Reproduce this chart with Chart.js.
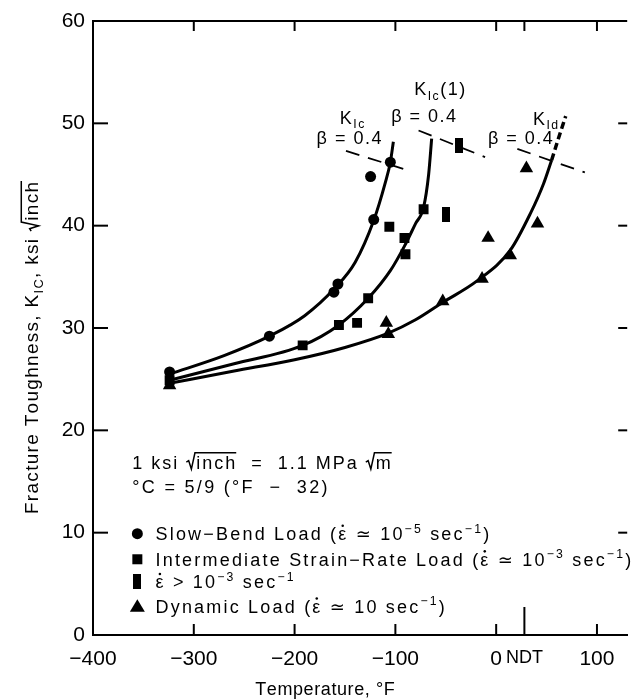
<!DOCTYPE html>
<html><head><meta charset="utf-8">
<script src="https://cdn.jsdelivr.net/npm/chart.js@4.4.1/dist/chart.umd.min.js"></script>
<style>html,body{margin:0;padding:0;background:#fff}canvas{display:block}</style>
</head><body>
<canvas id="c" width="635" height="700"></canvas>
<script>
// ---------- data ----------
const slowBend = [[-324,25.7],[-225,29.2],[-161,33.5],[-157,34.3],[-121.5,40.6],[-124.6,44.8],[-105,46.2]];
const intermediate = [[-324,24.9],[-192,28.3],[-156,30.3],[-138,30.5],[-127,32.9],[-106,39.9],[-91,38.8],[-90,37.2],[-72,41.6]];
const highRate = [[-50,41.1],[-37,47.8]];
const dynamic = [[-324,24.4],[-109,30.5],[-107,29.4],[-53,32.6],[-14,34.8],[-8,38.8],[14,37.1],[30,45.6],[41,40.2]];
const curveKIc = [[-324,25.5],[-270,27.3],[-225,29.2],[-190,31.2],[-160,33.9],[-140,36.4],[-121.5,40.5],[-110,44.2],[-105,46.2],[-102,48.2]];
const curveKIc1 = [[-324,24.9],[-260,26.5],[-192,28.3],[-156,30.3],[-127,32.9],[-105,35.6],[-91,38.0],[-80,40.2],[-72,41.8],[-67,45.0],[-64,48.5]];
const curveKId = [[-324,24.6],[-260,25.8],[-200,26.9],[-150,28.1],[-107,29.5],[-80,30.8],[-53,32.5],[-19,34.6],[14,37.6],[34,41.2],[47,44.1],[55,46.4]];
const curveKIdTop = [[55,46.4],[62,48.6],[69,50.7]];
const betaKIc = [[-149,47.3],[-84,45.3]];
const betaKIc1 = [[-77,49.3],[-11,46.7]];
const betaKId = [[21,47.5],[88,45.2]];
const xTicks = [-400,-300,-200,-100,0,28,100];
const xTickLabels = ['\u2212400','\u2212300','\u2212200','\u2212100','0','NDT','100'];
const yTicks = [0,10,20,30,40,50,60];
const xRange = [-400,130];
const yRange = [0,60];

// ---------- helpers ----------
const FONT = '"Liberation Sans", Arial, Helvetica, "DejaVu Sans", sans-serif';
const fontStr = s => s + 'px ' + FONT;
const pts = a => a.map(([x,y]) => ({x,y}));

function segW(ctx, s, size, sp) {
  const sz = (s.sup||s.sub) ? size*0.68 : size;
  ctx.font = fontStr(sz);
  if (s.rad) { let w = size*0.55; for (const ch of Array.from(s.rad)) w += ctx.measureText(ch).width + sp; return w; }
  let w = 0; for (const ch of Array.from(s.t)) w += ctx.measureText(ch).width + sp; return w;
}
function richW(ctx, segs, size, sp) { let w = 0; for (const s of segs) w += segW(ctx, s, size, sp); return w - sp; }
function drawRich(ctx, segs, x, y, size, sp) {
  let cx = x;
  for (const s of segs) {
    const sz = (s.sup||s.sub) ? size*0.68 : size;
    const dy = s.sup ? -size*0.42 : s.sub ? size*0.25 : 0;
    ctx.font = fontStr(sz);
    if (s.rad) {
      const x0 = cx;
      ctx.beginPath(); ctx.lineWidth = 1.5;
      ctx.moveTo(x0, y - size*0.36); ctx.lineTo(x0 + size*0.13, y - size*0.44);
      ctx.lineTo(x0 + size*0.28, y + size*0.03); ctx.lineTo(x0 + size*0.48, y - size*0.88);
      cx += size*0.55;
      for (const ch of Array.from(s.rad)) { ctx.fillText(ch, cx, y); cx += ctx.measureText(ch).width + sp; }
      ctx.lineTo(cx - sp + 1, y - size*0.88); ctx.stroke();
      continue;
    }
    for (const ch of Array.from(s.t)) {
      ctx.fillText(ch, cx, y + dy);
      const cw = ctx.measureText(ch).width;
      if (s.dot && ch === '\u03b5') { ctx.beginPath(); ctx.arc(cx + cw*0.55, y + dy - sz*0.8, sz*0.07, 0, Math.PI*2); ctx.fill(); }
      cx += cw + sp;
    }
  }
  return cx;
}

const eps = {t:'\u03b5', dot:true};
const texts = {
  ksi: [{t:'1 ksi '},{rad:'inch'},{t:'  =  1.1 MPa '},{rad:'m'}],
  cel: [{t:'\u00b0C = 5/9 (\u00b0F  \u2212  32)'}],
  leg: [
    [{t:'Slow\u2212Bend Load ('},eps,{t:' \u2243 10'},{t:'\u22125',sup:1},{t:' sec'},{t:'\u22121',sup:1},{t:')'}],
    [{t:'Intermediate Strain\u2212Rate Load ('},eps,{t:' \u2243 10'},{t:'\u22123',sup:1},{t:' sec'},{t:'\u22121',sup:1},{t:')'}],
    [eps,{t:' > 10'},{t:'\u22123',sup:1},{t:' sec'},{t:'\u22121',sup:1}],
    [{t:'Dynamic Load ('},eps,{t:' \u2243 10 sec'},{t:'\u22121',sup:1},{t:')'}]
  ],
  yTitle: [{t:'Fracture Toughness, K'},{t:'IC',sub:1},{t:', ksi '},{rad:'inch'}],
  xTitle: [{t:'Temperature, \u00b0F'}],
  kic: [{t:'K'},{t:'Ic',sub:1}],
  kic1: [{t:'K'},{t:'Ic',sub:1},{t:'(1)'}],
  kid: [{t:'K'},{t:'Id',sub:1}],
  beta: [{t:'\u03b2 = 0.4'}]
};
// annotation anchors in data units
const labelAt = [
  ['kic', -143, 50.6], ['beta', -146, 48.6],
  ['kic1', -56, 53.4], ['beta', -72, 50.8],
  ['kid', 49, 50.5], ['beta', 24, 48.6]
];
const legendRowsK = [9.9, 7.4, 5.2, 2.8];
const legendMarkerT = -356, legendTextT = -338;
const noteT = -361, ksiK = 16.9, celK = 14.5;

const tall = document.createElement('canvas');
tall.width = 8; tall.height = 15;
{ const t = tall.getContext('2d'); t.fillStyle = '#000'; t.fillRect(0,0,8,15); }

const deco = {
  id: 'deco',
  afterDraw(chart) {
    const {ctx, chartArea: a, scales: {x, y}} = chart;
    ctx.save();
    ctx.strokeStyle = '#000'; ctx.fillStyle = '#000'; ctx.lineWidth = 2;
    const L = (x1,y1,x2,y2) => { ctx.beginPath(); ctx.moveTo(x1,y1); ctx.lineTo(x2,y2); ctx.stroke(); };
    // frame top
    L(a.left, a.top, a.right, a.top);
    yTicks.forEach(v => { if (v===0 || v===60) return; const p = y.getPixelForValue(v); L(a.left, p, a.left+15, p); L(a.right, p, a.right-9, p); });
    xTicks.forEach(v => { if (v===-400) return; const p = x.getPixelForValue(v); L(p, a.bottom, p, a.bottom - (v===28 ? 28 : 11)); L(p, a.top, p, a.top + 10); });
    // annotation labels
    ctx.textBaseline = 'alphabetic';
    const sz = 18, sp = 1.5;
    labelAt.forEach(([k, tx, ty]) => {
      const w = richW(ctx, texts[k], sz, sp);
      drawRich(ctx, texts[k], x.getPixelForValue(tx) - w/2, y.getPixelForValue(ty) + sz*0.36, sz, sp);
    });
    // notes
    drawRich(ctx, texts.ksi, x.getPixelForValue(noteT), y.getPixelForValue(ksiK) + 6.5, 18, 2);
    drawRich(ctx, texts.cel, x.getPixelForValue(noteT), y.getPixelForValue(celK) + 6.5, 18, 2.3);
    // legend
    const mx = x.getPixelForValue(legendMarkerT), tx = x.getPixelForValue(legendTextT);
    legendRowsK.forEach((k, i) => {
      const py = y.getPixelForValue(k);
      ctx.beginPath();
      if (i === 0) { ctx.arc(mx, py, 5.5, 0, Math.PI*2); ctx.fill(); }
      else if (i === 1) { ctx.fillRect(mx-5, py-5, 10, 10); }
      else if (i === 2) { ctx.drawImage(tall, mx-4, py-7.5); }
      else { ctx.moveTo(mx, py-7); ctx.lineTo(mx+7.5, py+5.5); ctx.lineTo(mx-7.5, py+5.5); ctx.closePath(); ctx.fill(); }
      drawRich(ctx, texts.leg[i], tx, py + 6.5, 18, 2.2);
    });
    // axis titles
    const xt = texts.xTitle; const xw = richW(ctx, xt, 18, 0.6);
    drawRich(ctx, xt, a.left + 232 - xw/2, 695, 18, 0.6);
    ctx.save();
    ctx.translate(38, (a.top + a.bottom)/2 + 20);
    ctx.rotate(-Math.PI/2);
    const yw = richW(ctx, texts.yTitle, 19, 1.3);
    drawRich(ctx, texts.yTitle, -yw/2, 0, 19, 1.3);
    ctx.restore();
    ctx.restore();
  }
};

const lineDs = (data, w, dash, mono) => ({
  type: 'line', data: pts(data), borderColor: '#000', borderWidth: w, pointRadius: 0,
  borderDash: dash || [], cubicInterpolationMode: mono ? 'monotone' : 'default', tension: 0, fill: false
});
const ptDs = (data, style, r) => ({
  type: 'scatter', data: pts(data), pointStyle: style, pointRadius: r,
  backgroundColor: '#000', borderColor: '#000', borderWidth: 0
});

new Chart(document.getElementById('c'), {
  type: 'scatter',
  data: { datasets: [
    ptDs(slowBend, 'circle', 5.5),
    ptDs(intermediate, 'rect', 7),
    ptDs(highRate, tall, 7),
    ptDs(dynamic, 'triangle', 7.8),
    lineDs(curveKIc, 3, null, true),
    lineDs(curveKIc1, 3, null, true),
    lineDs(curveKId, 3, null, true),
    lineDs(curveKIdTop, 3.5, [7,4]),
    lineDs(betaKIc, 1.8, [14,9]),
    lineDs(betaKIc1, 1.8, [14,9]),
    lineDs(betaKId, 1.8, [14,9])
  ]},
  options: {
    responsive: false, animation: false, devicePixelRatio: 1,
    layout: { padding: { top: 21, right: 0, left: 0, bottom: 0 } },
    plugins: { legend: { display: false }, tooltip: { enabled: false } },
    scales: {
      x: {
        type: 'linear', min: xRange[0], max: xRange[1],
        afterFit(s) { s.height = 65; },
        afterBuildTicks(s) { s.ticks = xTicks.map(v => ({value: v})); },
        ticks: { callback: (v, i) => xTickLabels[i], autoSkip: false, maxRotation: 0, color: '#000',
                 font: c => ({ family: FONT, size: (c.tick && c.tick.value === 28) ? 18 : 21 }), padding: 12 },
        grid: { display: false, drawTicks: false },
        border: { display: true, color: '#000', width: 2 }
      },
      y: {
        type: 'linear', min: yRange[0], max: yRange[1],
        afterFit(s) { s.width = 93; },
        afterBuildTicks(s) { s.ticks = yTicks.map(v => ({value: v})); },
        ticks: { color: '#000', font: { family: FONT, size: 21 }, padding: 8 },
        grid: { display: false, drawTicks: false },
        border: { display: true, color: '#000', width: 2 }
      }
    }
  },
  plugins: [deco]
});
</script>
</body></html>
